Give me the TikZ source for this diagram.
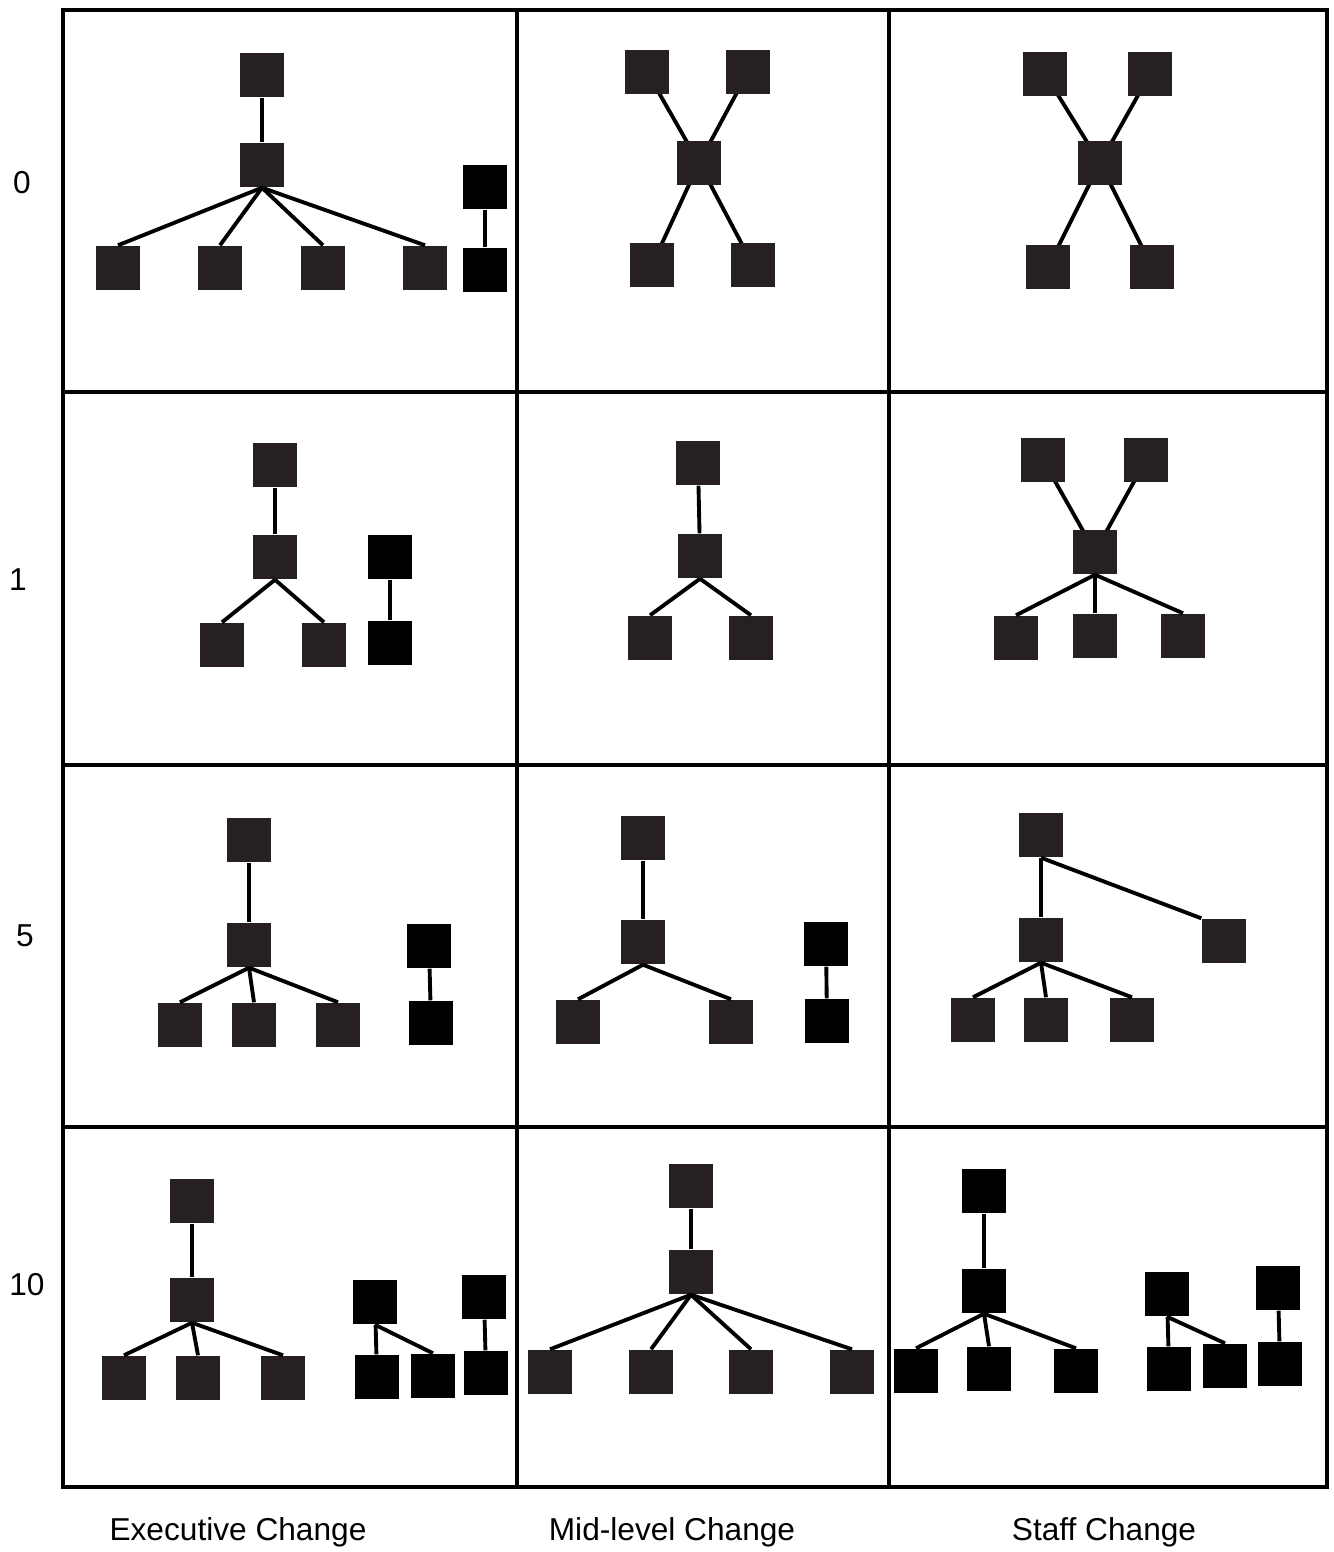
\documentclass[tikz,border=0pt]{standalone}
\usepackage{fontspec}
\setmainfont{Liberation Sans}
\usetikzlibrary{positioning,backgrounds}

\definecolor{boxgray}{RGB}{38,32,32}

\tikzset{
  unit/.style={rectangle, fill=boxgray, minimum size=0.44cm, inner sep=0pt}, % 方块：组织成员
  solid unit/.style={unit, fill=black},   % 纯黑方块
  tie/.style={line width=1.1pt},          % 成员之间的连线
  frame/.style={line width=1.3pt},        % 表格边框
  caption/.style={font=\fontsize{9}{11}\selectfont}
}

\begin{document}
\begin{tikzpicture}[x=0.01cm, y=-0.01cm]
  \useasboundingbox (0,0) rectangle (1334,1552); % 固定整体画幅

  % ======= 表格框线 =======
  \draw[frame] (63,10) rectangle (1327,1487);
  \draw[frame] (517,10) -- (517,1487);
  \draw[frame] (889,10) -- (889,1487);
  \draw[frame] (63,392) -- (1327,392);
  \draw[frame] (63,765) -- (1327,765);
  \draw[frame] (63,1127) -- (1327,1127);

  % ======= 行标签（时间） =======
  \node[caption] (t0)  at (22,183)  {0};
  \node[caption] (t1)  at (18,580)  {1};
  \node[caption] (t5)  at (25,936)  {5};
  \node[caption] (t10) at (27,1285) {10};

  % ======= 列标签 =======
  \node[caption] (exec) at (238,1532)  {Executive Change};
  \node[caption] (mid)  at (672,1532)  {Mid-level Change};
  \node[caption] (staff) at (1104,1532) {Staff Change};

  % ======= 第 0 行 =======
  % 行政层变化
  \node[unit] (a0t) at (262,75) {};
  \node[unit] (a0m) at (262,165) {};
  \foreach \x [count=\i] in {118,220,323,425}
    \node[unit] (a0b\i) at (\x,268) {};
  \draw[tie] (a0t) -- (a0m);
  \foreach \i in {1,...,4}
    \draw[tie] (a0m.south) -- (a0b\i.north);
  \node[solid unit] (a0p) at (485,187) {};
  \node[solid unit] (a0q) at (485,270) {};
  \draw[tie] (a0p) -- (a0q);

  % 中层变化（X 形：连线放到背景层）
  \node[unit] (b0t1) at (647,72) {};
  \node[unit] (b0t2) at (748,72) {};
  \node[unit] (b0m) at (699,163) {};
  \node[unit] (b0b1) at (652,265) {};
  \node[unit] (b0b2) at (753,265) {};
  \begin{scope}[on background layer]
    \foreach \n in {b0t1,b0t2,b0b1,b0b2}
      \draw[tie] (b0m.center) -- (\n.center);
  \end{scope}

  % 员工变化
  \node[unit] (c0t1) at (1045,74) {};
  \node[unit] (c0t2) at (1150,74) {};
  \node[unit] (c0m) at (1100,163) {};
  \node[unit] (c0b1) at (1048,267) {};
  \node[unit] (c0b2) at (1152,267) {};
  \begin{scope}[on background layer]
    \foreach \n in {c0t1,c0t2,c0b1,c0b2}
      \draw[tie] (c0m.center) -- (\n.center);
  \end{scope}

  % ======= 第 1 行 =======
  \node[unit] (a1t) at (275,465) {};
  \node[unit] (a1m) at (275,557) {};
  \node[unit] (a1b1) at (222,645) {};
  \node[unit] (a1b2) at (324,645) {};
  \draw[tie] (a1t) -- (a1m);
  \foreach \i in {1,2}
    \draw[tie] (a1m.south) -- (a1b\i.north);
  \node[solid unit] (a1p) at (390,557) {};
  \node[solid unit] (a1q) at (390,643) {};
  \draw[tie] (a1p) -- (a1q);

  \node[unit] (b1t) at (698,463) {};
  \node[unit] (b1m) at (700,556) {};
  \node[unit] (b1b1) at (650,638) {};
  \node[unit] (b1b2) at (751,638) {};
  \draw[tie] (b1t) -- (b1m);
  \foreach \i in {1,2}
    \draw[tie] (b1m.south) -- (b1b\i.north);

  \node[unit] (c1t1) at (1043,460) {};
  \node[unit] (c1t2) at (1146,460) {};
  \node[unit] (c1m) at (1095,552) {};
  \node[unit] (c1b1) at (1016,638) {};
  \node[unit] (c1b2) at (1095,636) {};
  \node[unit] (c1b3) at (1183,636) {};
  \begin{scope}[on background layer]
    \foreach \n in {c1t1,c1t2}
      \draw[tie] (c1m.center) -- (\n.center);
  \end{scope}
  \foreach \i in {1,2,3}
    \draw[tie] (c1m.south) -- (c1b\i.north);

  % ======= 第 5 行 =======
  \node[unit] (a5t) at (249,840) {};
  \node[unit] (a5m) at (249,945) {};
  \foreach \x [count=\i] in {180,254,338}
    \node[unit] (a5b\i) at (\x,1025) {};
  \draw[tie] (a5t) -- (a5m);
  \foreach \i in {1,2,3}
    \draw[tie] (a5m.south) -- (a5b\i.north);
  \node[solid unit] (a5p) at (429,946) {};
  \node[solid unit] (a5q) at (431,1023) {};
  \draw[tie] (a5p) -- (a5q);

  \node[unit] (b5t) at (643,838) {};
  \node[unit] (b5m) at (643,942) {};
  \node[unit] (b5b1) at (578,1022) {};
  \node[unit] (b5b2) at (731,1022) {};
  \draw[tie] (b5t) -- (b5m);
  \foreach \i in {1,2}
    \draw[tie] (b5m.south) -- (b5b\i.north);
  \node[solid unit] (b5p) at (826,944) {};
  \node[solid unit] (b5q) at (827,1021) {};
  \draw[tie] (b5p) -- (b5q);

  \node[unit] (c5t) at (1041,835) {};
  \node[unit] (c5m) at (1041,940) {};
  \node[unit] (c5r) at (1224,941) {};
  \foreach \x [count=\i] in {973,1046,1132}
    \node[unit] (c5b\i) at (\x,1020) {};
  \draw[tie] (c5t) -- (c5m);
  \draw[tie] (c5t.south) -- (c5r.north west);
  \foreach \i in {1,2,3}
    \draw[tie] (c5m.south) -- (c5b\i.north);

  % ======= 第 10 行 =======
  \node[unit] (a10t) at (192,1201) {};
  \node[unit] (a10m) at (192,1300) {};
  \foreach \x [count=\i] in {124,198,283}
    \node[unit] (a10b\i) at (\x,1378) {};
  \draw[tie] (a10t) -- (a10m);
  \foreach \i in {1,2,3}
    \draw[tie] (a10m.south) -- (a10b\i.north);
  \node[solid unit] (a10p) at (375,1302) {};
  \node[solid unit] (a10q1) at (377,1377) {};
  \node[solid unit] (a10q2) at (433,1376) {};
  \draw[tie] (a10p) -- (a10q1);
  \draw[tie] (a10p.south) -- (a10q2.north);
  \node[solid unit] (a10r) at (484,1297) {};
  \node[solid unit] (a10s) at (486,1373) {};
  \draw[tie] (a10r) -- (a10s);

  \node[unit] (b10t) at (691,1186) {};
  \node[unit] (b10m) at (691,1272) {};
  \foreach \x [count=\i] in {550,651,751,852}
    \node[unit] (b10b\i) at (\x,1372) {};
  \draw[tie] (b10t) -- (b10m);
  \foreach \i in {1,...,4}
    \draw[tie] (b10m.south) -- (b10b\i.north);

  \node[solid unit] (c10t) at (984,1191) {};
  \node[solid unit] (c10m) at (984,1291) {};
  \foreach \x/\y [count=\i] in {916/1371,989/1369,1076/1371}
    \node[solid unit] (c10b\i) at (\x,\y) {};
  \draw[tie] (c10t) -- (c10m);
  \foreach \i in {1,2,3}
    \draw[tie] (c10m.south) -- (c10b\i.north);
  \node[solid unit] (c10p) at (1167,1294) {};
  \node[solid unit] (c10q1) at (1169,1369) {};
  \node[solid unit] (c10q2) at (1225,1366) {};
  \draw[tie] (c10p) -- (c10q1);
  \draw[tie] (c10p.south) -- (c10q2.north);
  \node[solid unit] (c10r) at (1278,1288) {};
  \node[solid unit] (c10s) at (1280,1364) {};
  \draw[tie] (c10r) -- (c10s);

\end{tikzpicture}
\end{document}
